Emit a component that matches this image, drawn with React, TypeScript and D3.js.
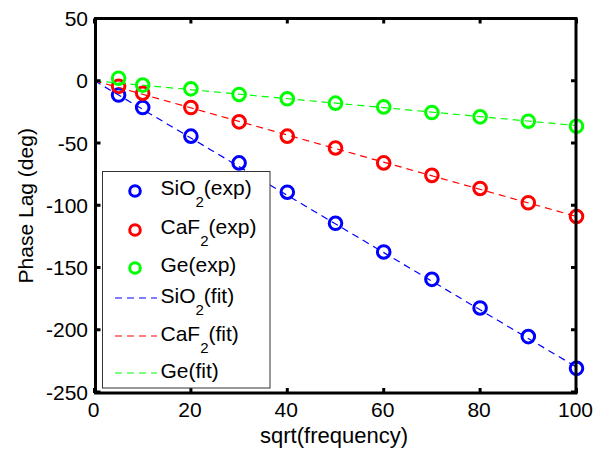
import React from "react";
import * as d3 from "d3";

// Sample positions (sqrt of frequency)
const sqrtFreq = [5, 10, 20, 30, 40, 50, 60, 70, 80, 90, 100];

// Measured phase lag (deg)
const sio2Exp = [-11.5, -21.5, -44.5, -66, -89.5, -114.5, -137.5, -159.5, -182.5, -205.5, -231];
const caf2Exp = [-4.5, -10, -21.5, -33, -44.5, -54, -66, -76, -86.5, -98, -109];
const geExp = [2, -3.5, -6.5, -11, -14.5, -18, -21, -25.5, -29, -32.5, -36.5];

// Linear fits, given by their end points
const fitX = [0, 100];
const sio2Fit = [0, -230];
const caf2Fit = [0, -109];
const geFit = [0, -36];

const xTicks = [0, 20, 40, 60, 80, 100];
const yTicks = [50, 0, -50, -100, -150, -200, -250];

const W = 607;
const H = 449;
const FONT = "'Liberation Sans', Arial, Helvetica, sans-serif";

const series = [
  { name: "SiO", sub: "2", color: "#0000ff", exp: sio2Exp, fit: sio2Fit },
  { name: "CaF", sub: "2", color: "#ff0000", exp: caf2Exp, fit: caf2Fit },
  { name: "Ge", sub: "", color: "#00ff00", exp: geExp, fit: geFit },
];

export default function App() {
  const x = d3.scaleLinear().domain([0, 100]).range([94.5, 576.5]);
  const y = d3.scaleLinear().domain([-250, 50]).range([392, 18.5]);
  const left = 95.5, right = 576, top = 18.5, bottom = 393;
  const line = d3
    .line<[number, number]>()
    .x((d) => x(d[0]))
    .y((d) => y(d[1]));

  const lgX = 102.5, lgY = 171.5, lgW = 167.5, lgH = 216.5;
  const expRows = [195, 234, 272];
  const fitRows = [303, 341, 378];

  const label = (s: typeof series[number], tag: string, tx: number, ty: number) => (
    <text x={tx} y={ty} fontFamily={FONT} fontSize={21} fill="#000">
      {s.name}
      {s.sub ? (
        <>
          <tspan dy={12} fontSize={15}>{s.sub}</tspan>
          <tspan dy={-12}>{tag}</tspan>
        </>
      ) : (
        <tspan>{tag}</tspan>
      )}
    </text>
  );

  return (
    <svg
      width={W}
      height={H}
      style={{ position: "absolute", left: 0, top: 0, background: "#fff" }}
    >
      <rect x={0} y={0} width={W} height={H} fill="#fff" />
      {/* measured points */}
      {series.map((s) =>
        sqrtFreq.map((f, i) => (
          <circle
            key={s.name + i}
            cx={x(f)}
            cy={y(s.exp[i])}
            r={6.3}
            fill="none"
            stroke={s.color}
            strokeWidth={3}
          />
        ))
      )}
      {/* fitted lines */}
      {series.map((s) => (
        <path
          key={s.name + "fit"}
          d={line(fitX.map((v, i) => [v, s.fit[i]]) as [number, number][]) || ""}
          fill="none"
          stroke={s.color}
          strokeWidth={1.2}
          strokeDasharray="7,5"
        />
      ))}
      {/* axes box */}
      <rect
        x={left}
        y={top}
        width={right - left}
        height={bottom - top}
        fill="none"
        stroke="#000"
        strokeWidth={3}
      />
      {xTicks.map((t) => (
        <g key={"xt" + t}>
          <line x1={x(t)} x2={x(t)} y1={bottom} y2={bottom - 5} stroke="#000" strokeWidth={3} />
          <line x1={x(t)} x2={x(t)} y1={top} y2={top + 5} stroke="#000" strokeWidth={3} />
          <text
            x={x(t) - 1}
            y={417}
            textAnchor="middle"
            fontFamily={FONT}
            fontSize={21}
          >
            {t}
          </text>
        </g>
      ))}
      {yTicks.map((t) => (
        <g key={"yt" + t}>
          <line x1={left} x2={left + 5} y1={y(t)} y2={y(t)} stroke="#000" strokeWidth={3} />
          <line x1={right} x2={right - 5} y1={y(t)} y2={y(t)} stroke="#000" strokeWidth={3} />
          <text
            x={88}
            y={y(t) + 7.5}
            textAnchor="end"
            fontFamily={FONT}
            fontSize={21}
          >
            {t}
          </text>
        </g>
      ))}
      <text x={334} y={443} textAnchor="middle" fontFamily={FONT} fontSize={22}>
        sqrt(frequency)
      </text>
      <text
        transform={`translate(33,${(top + bottom) / 2}) rotate(-90)`}
        textAnchor="middle"
        fontFamily={FONT}
        fontSize={21}
      >
        Phase Lag (deg)
      </text>
      {/* legend */}
      <rect x={lgX} y={lgY} width={lgW} height={lgH} fill="#fff" stroke="#333" strokeWidth={1} />
      {series.map((s, i) => (
        <g key={s.name + "lgE"}>
          <circle cx={135} cy={expRows[i] - 4} r={5.3} fill="none" stroke={s.color} strokeWidth={3} />
          {label(s, "(exp)", 160.5, expRows[i])}
        </g>
      ))}
      {series.map((s, i) => (
        <g key={s.name + "lgF"}>
          <line
            x1={115}
            x2={157}
            y1={fitRows[i] - 5}
            y2={fitRows[i] - 5}
            stroke={s.color}
            strokeWidth={1.2}
            strokeDasharray="7,5"
          />
          {label(s, "(fit)", 160.5, fitRows[i])}
        </g>
      ))}
    </svg>
  );
}
